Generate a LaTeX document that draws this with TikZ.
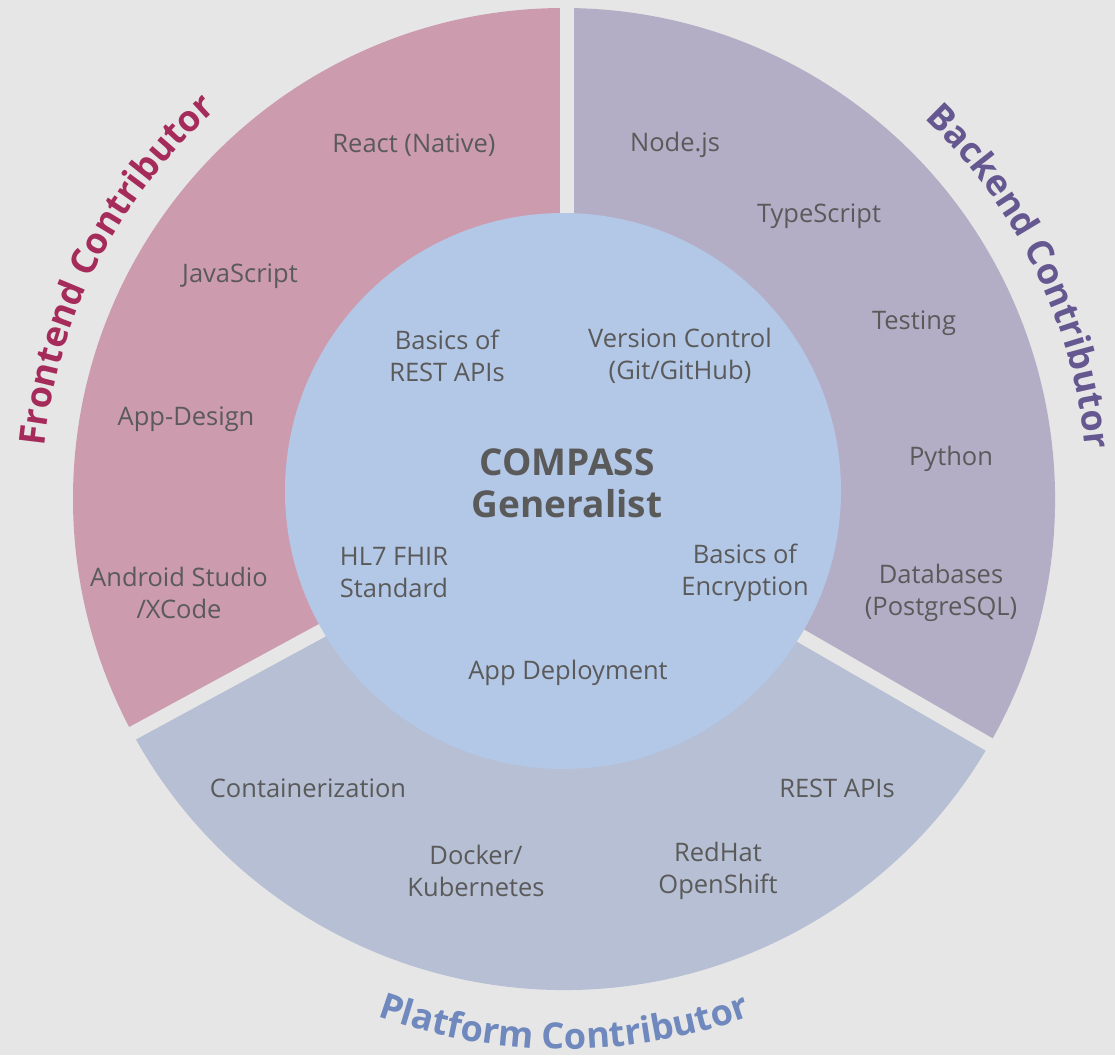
\documentclass[tikz,border=0pt]{standalone}
\usepackage{fontspec}
\setmainfont{Open Sans}
\usetikzlibrary{decorations.text}
\definecolor{bgc}{HTML}{E6E6E6}
\definecolor{frontc}{HTML}{CD9BAE}
\definecolor{backc}{HTML}{B3AEC5}
\definecolor{platc}{HTML}{B6BFD3}
\definecolor{innerc}{HTML}{B3C7E6}
\definecolor{textc}{HTML}{5A5A5A}
\definecolor{frontt}{HTML}{A52B5A}
\definecolor{backt}{HTML}{65578F}
\definecolor{platt}{HTML}{6F88BD}

\begin{document}
\begin{tikzpicture}[x=1pt,y=1pt,
  skill/.style={text=textc,font=\fontsize{25.5}{32}\selectfont,align=center,inner sep=0},
  core/.style={text=textc,font=\bfseries\fontsize{37}{42}\selectfont,align=center,inner sep=0},
  gap/.style={bgc,line width=14}]
\fill[bgc] (0,0) rectangle (1115,-1055);
\useasboundingbox (0,0) rectangle (1115,-1055);
\begin{scope}[shift={(564,-499)}]
\fill[frontc] (0,0) -- (90:491) arc (90:208.5:491) -- cycle;
\fill[backc] (0,0) -- (-30:491) arc (-30:90:491) -- cycle;
\fill[platc] (0,0) -- (208.5:491) arc (208.5:330:491) -- cycle;
\draw[gap] (2.5,0) -- (2.5,500);
\draw[gap] (0,0) -- (208.5:500);
\draw[gap] (0,0) -- (-30:500);
\path[decorate,decoration={text along path,text align=center,
  text={|\color{frontt}\bfseries\fontsize{36}{36}\selectfont|Frontend Contributor}}]
  (174:522) arc (174:132:522);
\path[decorate,decoration={text along path,text align=center,
  text={|\color{backt}\bfseries\fontsize{36}{36}\selectfont|Backend Contributor}}]
  (47:524) arc (47:5:524);
\path[decorate,decoration={text along path,text align=center,
  text={|\color{platt}\bfseries\fontsize{36}{36}\selectfont|Platform Contributor}}]
  (249:550) arc (249:291:550);
\end{scope}
\fill[innerc] (563,-491) circle (278);
\node[skill] (react) at (414,-145) {React (Native)};
\node[skill] (js) at (240,-276) {JavaScript};
\node[skill] (appdesign) at (186,-419) {App-Design};
\node[skill] (studio) at (179,-593) {Android Studio\\/XCode};
\node[skill] (node) at (675,-145) {Node.js};
\node[skill] (ts) at (819,-216) {TypeScript};
\node[skill] (testing) at (914,-323) {Testing};
\node[skill] (python) at (951,-459) {Python};
\node[skill] (db) at (941,-593) {Databases\\(PostgreSQL)};
\node[skill] (container) at (308,-788) {Containerization};
\node[skill] (docker) at (476,-871) {Docker/\\Kubernetes};
\node[skill] (redhat) at (718,-871) {RedHat\\OpenShift};
\node[skill] (rest) at (837,-788) {REST APIs};
\node[skill] (restbasics) at (447,-356) {Basics of\\REST APIs};
\node[skill] (git) at (680,-356) {Version Control\\(Git/GitHub)};
\node[core] (compass) at (567,-483) {COMPASS\\Generalist};
\node[skill] (fhir) at (394,-573) {HL7 FHIR\\Standard};
\node[skill] (crypt) at (745,-573) {Basics of\\Encryption};
\node[skill] (deploy) at (568,-673) {App Deployment};
\end{tikzpicture}
\end{document}
